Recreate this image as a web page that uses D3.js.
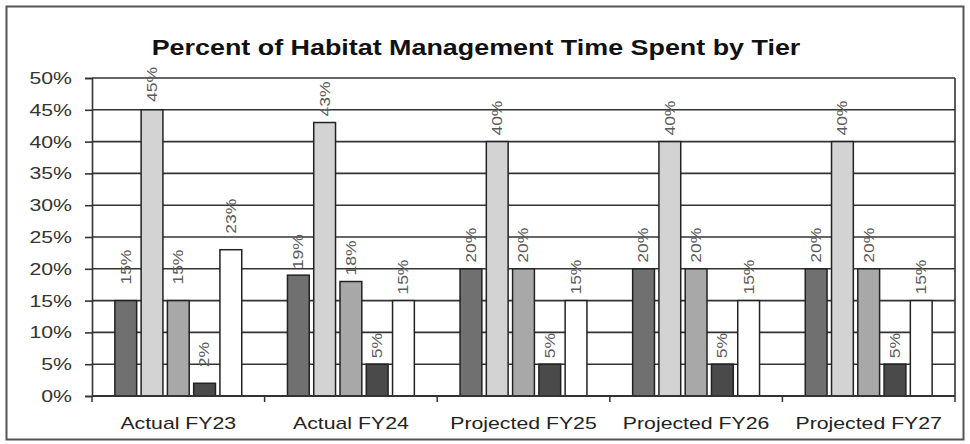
<!DOCTYPE html>
<html>
<head>
<meta charset="utf-8">
<script src="https://cdn.jsdelivr.net/npm/d3@7"></script>
<style>
  body { margin: 0; background: #fff; }
  text { font-family: Arial, "Liberation Sans", sans-serif; }
</style>
</head>
<body>
<div id="chart"></div>
<script>
/*chart data*/
var categories = ["Actual FY23", "Actual FY24", "Projected FY25", "Projected FY26", "Projected FY27"];
var tiers = ["Tier 1", "Tier 2", "Tier 3", "Tier 4", "Tier 5"];
var tier1 = [15, 19, 20, 20, 20];
var tier2 = [45, 43, 40, 40, 40];
var tier3 = [15, 18, 20, 20, 20];
var tier4 = [2, 5, 5, 5, 5];
var tier5 = [23, 15, 15, 15, 15];
var yTicks = [0, 5, 10, 15, 20, 25, 30, 35, 40, 45, 50];
var title = "Percent of Habitat Management Time Spent by Tier";

var series = [tier1, tier2, tier3, tier4, tier5];
var tierColors = ["#707070", "#d3d3d3", "#a8a8a8", "#4a4a4a", "#ffffff"];

/*svg and plot area*/
var svgWidth = 970, svgHeight = 444;
var margin = {top: 78, right: 15, bottom: 48, left: 92};
var width = svgWidth - margin.left - margin.right;
var height = svgHeight - margin.top - margin.bottom;

/*the picture is a little wider than tall, so text is stretched sideways*/
var stretchX = 1.25;
function stretch(sel, k) {
  sel.each(function() {
    var w = this.getComputedTextLength();
    d3.select(this).attr("textLength", w * k).attr("lengthAdjust", "spacingAndGlyphs");
  });
}

var svg = d3.select("#chart").append("svg")
  .attr("width", svgWidth)
  .attr("height", svgHeight);

/*outer frame*/
svg.append("rect")
  .attr("x", 6.5).attr("y", 6.5)
  .attr("width", 957).attr("height", 433)
  .attr("fill", "#fff")
  .attr("stroke", "#555")
  .attr("stroke-width", 2);

svg.append("text")
  .attr("x", 476)
  .attr("y", 55)
  .attr("text-anchor", "middle")
  .attr("font-size", 21.5)
  .attr("font-weight", "bold")
  .attr("fill", "#111")
  .text(title)
  .call(stretch, stretchX);

var g = svg.append("g")
  .attr("transform", `translate(${margin.left},${margin.top})`);

/*scales*/
var x0 = d3.scaleBand().domain(categories).range([0, width]);
var x1 = d3.scaleBand().domain(tiers).range([0, x0.bandwidth()])
  .paddingInner(0.17).paddingOuter(0.87);
var y = d3.scaleLinear().domain([0, 50]).range([height, 0]);

/*gridlines behind the bars*/
g.append("g").selectAll("line")
  .data(yTicks)
  .enter().append("line")
  .attr("x1", 0).attr("x2", width)
  .attr("y1", d => y(d)).attr("y2", d => y(d))
  .attr("stroke", "#333")
  .attr("stroke-width", 1.6);

g.append("line")
  .attr("x1", width).attr("x2", width)
  .attr("y1", 0).attr("y2", height)
  .attr("stroke", "#333").attr("stroke-width", 1.6);

/*y axis*/
var leftAxis = d3.axisLeft(y).tickValues(yTicks).tickFormat(d => d + "%").tickSize(7).tickPadding(13);
var yAxis = g.append("g").call(leftAxis);
yAxis.select(".domain").attr("stroke", "#333").attr("stroke-width", 1.6);
yAxis.selectAll(".tick line").attr("stroke", "#333").attr("stroke-width", 1.6);
yAxis.selectAll(".tick text")
  .attr("font-size", 17)
  .attr("font-family", "Arial, 'Liberation Sans', sans-serif")
  .attr("fill", "#333")
  .call(stretch, stretchX);

/*bars*/
var rows = [];
categories.forEach(function(c, i) {
  tiers.forEach(function(t, j) {
    rows.push({category: c, ci: i, tier: t, tj: j, value: series[j][i]});
  });
});

g.append("g").selectAll("rect")
  .data(rows)
  .enter().append("rect")
  .attr("x", d => x0(d.category) + x1(d.tier))
  .attr("y", d => y(d.value))
  .attr("width", x1.bandwidth())
  .attr("height", d => height - y(d.value))
  .attr("fill", d => tierColors[d.tj])
  .attr("stroke", "#222")
  .attr("stroke-width", 1.5);

/*x axis*/
var xAxis = g.append("g").attr("transform", `translate(0,${height})`);
xAxis.append("line")
  .attr("x1", 0).attr("x2", width)
  .attr("stroke", "#333").attr("stroke-width", 1.8);
xAxis.selectAll(".bound")
  .data(categories.concat([null]))
  .enter().append("line")
  .attr("class", "bound")
  .attr("x1", (d, i) => i * x0.step()).attr("x2", (d, i) => i * x0.step())
  .attr("y1", 0).attr("y2", 6)
  .attr("stroke", "#333").attr("stroke-width", 1.5);
xAxis.selectAll(".cat")
  .data(categories)
  .enter().append("text")
  .attr("class", "cat")
  .attr("x", d => x0(d) + x0.bandwidth() / 2)
  .attr("y", 33)
  .attr("text-anchor", "middle")
  .attr("font-size", 17)
  .attr("fill", "#222")
  .text(d => d)
  .call(stretch, stretchX);

/*rotated value labels above each bar*/
var labels = g.append("g").selectAll("text")
  .data(rows)
  .enter().append("text")
  .attr("font-size", 14)
  .attr("fill", "#5a5a5a")
  .attr("dy", "0.35em")
  .text(d => d.value + "%")
  .call(stretch, stretchX);

labels.attr("transform", function(d) {
  var len = +d3.select(this).attr("textLength");
  var gap = d.ci === 0 ? 16 : 6;
  var bottom = Math.max(y(d.value) - gap, -11 + len);
  var cx = x0(d.category) + x1(d.tier) + x1.bandwidth() / 2;
  return `translate(${cx},${bottom}) rotate(-90)`;
});
</script>
</body>
</html>
